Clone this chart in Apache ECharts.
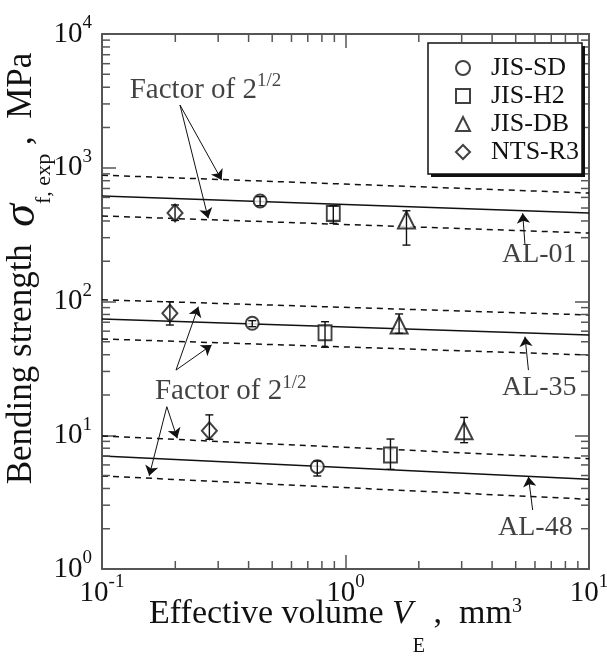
<!DOCTYPE html>
<html>
<head>
<meta charset="utf-8">
<script src="https://cdn.jsdelivr.net/npm/echarts@6/dist/echarts.min.js"></script>
<style>
  html, body { margin: 0; padding: 0; background: #fff; }
  #main { width: 607px; height: 657px; }
</style>
</head>
<body>
<div id="main"></div>
<script>
const serif = 'Liberation Serif, Times New Roman, serif';
const ink = '#111';
const axisGray = '#555';

// test methods, points in order AL-01, AL-35, AL-48
const methods = ['JIS-SD', 'JIS-H2', 'JIS-DB', 'NTS-R3'];
const methodSymbols = ['emptyCircle', 'emptyRect', 'emptyTriangle', 'emptyDiamond'];
const methodSizes = [13, [13, 15], 17, [15, 17]];

const sdVol = [0.446, 0.414, 0.766];
const sdStr = [564, 68.7, 5.82];
const sdLo = [520, 64.8, 4.96];
const sdHi = [608, 71.9, 6.41];

const h2Vol = [0.891, 0.824, 1.53];
const h2Str = [456, 58.4, 7.12];
const h2Lo = [384, 45.5, 5.56];
const h2Hi = [520, 70.6, 9.37];

const dbVol = [1.78, 1.66, 3.07];
const dbStr = [407, 66.7, 10.8];
const dbLo = [264, 57.8, 8.8];
const dbHi = [477, 80.7, 13.6];

const r3Vol = [0.1995, 0.190, 0.276];
const r3Str = [459, 81.6, 10.8];
const r3Lo = [404, 66.7, 9.33];
const r3Hi = [527, 99.7, 14.2];

// size-effect lines (solid) and factor-of-2^(1/2) bands (dashed)
const fitVol = [0.1, 10];
const al01Fit = [615, 459];
const al01Up = [880, 647];
const al01Low = [436, 325];
const al35Fit = [74, 56.2];
const al35Up = [103, 79.3];
const al35Low = [52.5, 39.8];
const al48Fit = [7.0, 4.69];
const al48Up = [9.87, 6.68];
const al48Low = [4.96, 3.32];

// minor ticks
const minorVol = [0.2, 0.3, 0.4, 0.5, 0.6, 0.7, 0.8, 0.9, 2, 3, 4, 5, 6, 7, 8, 9];
const minorStr = [2, 3, 4, 5, 6, 7, 8, 9, 20, 30, 40, 50, 60, 70, 80, 90,
  200, 300, 400, 500, 600, 700, 800, 900, 2000, 3000, 4000, 5000, 6000, 7000, 8000, 9000];

// annotations
const noteText = ['{a|Factor of 2}{s|1/2}', '{a|Factor of 2}{s|1/2}', '{b|AL-01}', '{b|AL-35}', '{b|AL-48}'];
const noteVol = [0.130, 0.165, 4.39, 4.39, 4.23];
const noteStr = [3813, 21.4, 224.5, 22.6, 2.04];
const arrowFrom = [[0.209, 2945], [0.209, 2945], [0.2013, 30.7], [0.2013, 30.7], [0.1846, 16.35],
  [0.1846, 16.35], [5.46, 264.6], [5.64, 30.7], [5.87, 2.76]];
const arrowTo = [[0.310, 810], [0.273, 419], [0.2486, 91.4], [0.282, 47.3], [0.2037, 9.49],
  [0.1563, 4.98], [5.34, 456], [5.46, 54.6], [5.64, 4.90]];

const methodData = [
  [sdVol, sdStr, sdLo, sdHi],
  [h2Vol, h2Str, h2Lo, h2Hi],
  [dbVol, dbStr, dbLo, dbHi],
  [r3Vol, r3Str, r3Lo, r3Hi]
];

const powLabel = v => '{b|10}{s|' + Math.round(Math.log10(v)) + '}';
const tickRich = {
  b: { fontFamily: serif, fontSize: 29, lineHeight: 40, color: ink },
  s: { fontFamily: serif, fontSize: 19, lineHeight: 19, color: ink, verticalAlign: 'top' }
};

function logAxis(min, max, pos, labels) {
  return {
    type: 'log', logBase: 10, min: min, max: max, position: pos,
    nameMoveOverlap: false,
    axisLine: { show: true, onZero: false, lineStyle: { color: axisGray, width: 2 } },
    axisTick: { show: true, inside: true, length: 14, lineStyle: { color: axisGray, width: 1.5 } },
    axisLabel: { show: labels, formatter: powLabel, rich: tickRich, margin: 6 },
    splitLine: { show: false }
  };
}

const xAxes = [logAxis(0.1, 10, 'bottom', true), logAxis(0.1, 10, 'top', false)];
xAxes[0].axisLabel.margin = 4;
xAxes[0].name = '{t|Effective volume }{i|V}{sub|E}{t| ,  mm}{sup|3}';
xAxes[0].nameLocation = 'middle';
xAxes[0].nameGap = 28;
xAxes[0].nameTextStyle = {
  padding: [0, 20, 0, 0],
  rich: {
    t: { fontFamily: serif, fontSize: 34, lineHeight: 34, color: ink, verticalAlign: 'top' },
    i: { fontFamily: serif, fontSize: 34, lineHeight: 34, fontStyle: 'italic', color: ink, verticalAlign: 'top' },
    sub: { fontFamily: serif, fontSize: 20, lineHeight: 60, color: ink, verticalAlign: 'bottom' },
    sup: { fontFamily: serif, fontSize: 20, lineHeight: 20, color: ink, verticalAlign: 'top' }
  }
};

const yAxes = [logAxis(1, 10000, 'left', true), logAxis(1, 10000, 'right', false)];
yAxes[0].axisLabel.margin = 10;
yAxes[0].name = '{t|Bending strength  }{g|σ}{sub|f, exp}{t| ,  MPa}';
yAxes[0].nameLocation = 'middle';
yAxes[0].nameRotate = 90;
yAxes[0].nameGap = 47;
yAxes[0].nameTextStyle = {
  padding: [0, 0, 0, 66],
  rich: {
    t: { fontFamily: serif, fontSize: 35, lineHeight: 66, color: ink },
    g: { fontFamily: serif, fontSize: 46, lineHeight: 66, fontStyle: 'italic', color: ink },
    sub: { fontFamily: serif, fontSize: 22, lineHeight: 22, color: ink, verticalAlign: 'bottom' }
  }
};

function bandLine(name, values, dashed) {
  return {
    name: name, type: 'line', silent: true, symbol: 'none', z: 2,
    data: fitVol.map((v, i) => [v, values[i]]),
    lineStyle: { color: ink, width: dashed ? 1.5 : 1.6, type: dashed ? [6, 5] : 'solid' }
  };
}

const series = [
  bandLine('al01Fit', al01Fit, false), bandLine('al01Up', al01Up, true), bandLine('al01Low', al01Low, true),
  bandLine('al35Fit', al35Fit, false), bandLine('al35Up', al35Up, true), bandLine('al35Low', al35Low, true),
  bandLine('al48Fit', al48Fit, false), bandLine('al48Up', al48Up, true), bandLine('al48Low', al48Low, true)
];

methods.forEach((m, k) => {
  const d = methodData[k];
  series.push({
    name: m, type: 'scatter', symbol: methodSymbols[k], symbolSize: methodSizes[k], z: 4,
    itemStyle: { color: ink, borderWidth: 1.3 },
    data: d[0].map((v, i) => [v, d[1][i]])
  });
});

// error bars
const errData = [];
methodData.forEach(d => d[0].forEach((v, i) => errData.push([v, d[2][i], d[3][i]])));
series.push({
  name: 'errors', type: 'custom', silent: true, z: 5,
  data: errData,
  encode: { x: 0, y: [1, 2] },
  renderItem: (params, api) => {
    const top = api.coord([api.value(0), api.value(2)]);
    const bot = api.coord([api.value(0), api.value(1)]);
    const st = { stroke: ink, lineWidth: 1.4 };
    return {
      type: 'group', children: [
        { type: 'line', shape: { x1: top[0], y1: top[1], x2: bot[0], y2: bot[1] }, style: st },
        { type: 'line', shape: { x1: top[0] - 4, y1: top[1], x2: top[0] + 4, y2: top[1] }, style: st },
        { type: 'line', shape: { x1: bot[0] - 4, y1: bot[1], x2: bot[0] + 4, y2: bot[1] }, style: st }
      ]
    };
  }
});

// minor ticks on all four sides
series.push({
  name: 'minorX', type: 'custom', silent: true, clip: false, z: 3,
  data: minorVol.map(v => [v, 1]),
  renderItem: (params, api) => {
    const cs = params.coordSys;
    const x = api.coord([api.value(0), 1])[0];
    const st = { stroke: axisGray, lineWidth: 1.5 };
    return {
      type: 'group', children: [
        { type: 'line', shape: { x1: x, y1: cs.y + cs.height, x2: x, y2: cs.y + cs.height - 8 }, style: st },
        { type: 'line', shape: { x1: x, y1: cs.y, x2: x, y2: cs.y + 8 }, style: st }
      ]
    };
  }
});
series.push({
  name: 'minorY', type: 'custom', silent: true, clip: false, z: 3,
  data: minorStr.map(v => [0.1, v]),
  renderItem: (params, api) => {
    const cs = params.coordSys;
    const y = api.coord([0.1, api.value(1)])[1];
    const st = { stroke: axisGray, lineWidth: 1.5 };
    return {
      type: 'group', children: [
        { type: 'line', shape: { x1: cs.x, y1: y, x2: cs.x + 8, y2: y }, style: st },
        { type: 'line', shape: { x1: cs.x + cs.width, y1: y, x2: cs.x + cs.width - 8, y2: y }, style: st }
      ]
    };
  }
});

// annotation arrows
series.push({
  name: 'arrows', type: 'line', data: [], silent: true, z: 6,
  markLine: {
    silent: true, animation: false,
    symbol: ['none', 'arrow'], symbolSize: 10,
    label: { show: false },
    lineStyle: { color: ink, width: 1, type: 'solid' },
    emphasis: { disabled: true },
    data: arrowFrom.map((p, i) => [{ coord: p }, { coord: arrowTo[i] }])
  }
});

// annotation texts
series.push({
  name: 'notes', type: 'scatter', silent: true, symbolSize: 0, z: 6,
  data: noteVol.map((v, i) => ({ value: [v, noteStr[i]], text: noteText[i] })),
  label: {
    show: true, position: 'right', distance: 0,
    formatter: p => p.data.text,
    rich: {
      a: { fontFamily: serif, fontSize: 29, lineHeight: 36, color: ink },
      s: { fontFamily: serif, fontSize: 19, lineHeight: 19, color: ink, verticalAlign: 'top' },
      b: { fontFamily: serif, fontSize: 28, lineHeight: 30, color: ink }
    }
  }
});

const chart = echarts.init(document.getElementById('main'));
chart.setOption({
  animation: false,
  backgroundColor: '#fff',
  grid: { left: 102, right: 18, top: 34, bottom: 88, containLabel: false, outerBoundsMode: 'none' },
  xAxis: xAxes,
  yAxis: yAxes,
  // legend frame with a hard drop shadow
  graphic: [
    { type: 'rect', z: 10, silent: true, shape: { x: 431, y: 46, width: 154, height: 131 }, style: { fill: '#111' } },
    { type: 'rect', z: 11, silent: true, shape: { x: 428, y: 43, width: 154, height: 131 },
      style: { fill: '#fff', stroke: ink, lineWidth: 1.5 } }
  ],
  legend: {
    data: methods, orient: 'vertical', left: 428, top: 43, z: 12,
    selectedMode: false,
    padding: [12, 4, 14, 27],
    itemWidth: 14, itemHeight: 14, itemGap: 2,
    itemStyle: { borderWidth: 1.2 },
    textStyle: { fontFamily: serif, fontSize: 26, color: ink, padding: [0, 0, 0, 16] }
  },
  series: series
});
</script>
</body>
</html>
